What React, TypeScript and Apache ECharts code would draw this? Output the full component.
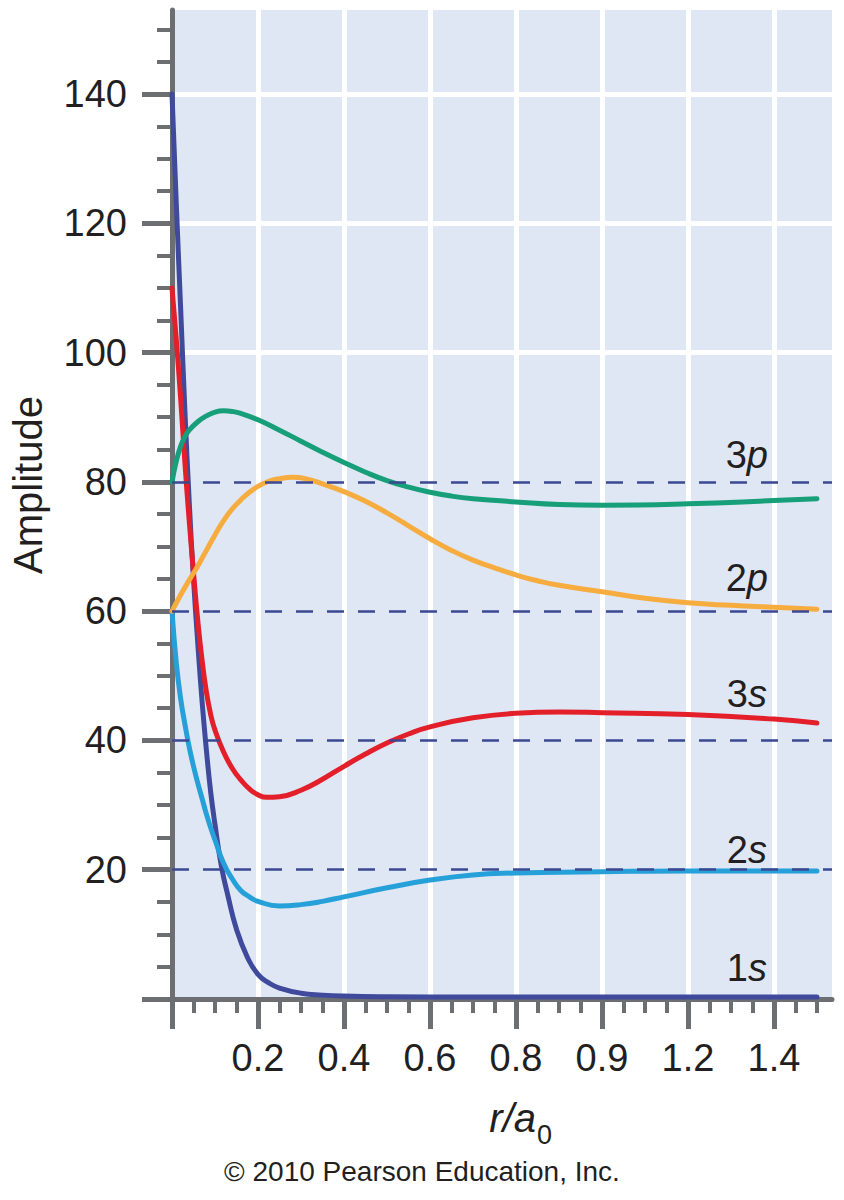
import React, { useEffect, useRef } from 'react';
import * as echarts from 'echarts';

// ---- axis ticks / labels ----
const xMajorTicks = [0, 0.2, 0.4, 0.6, 0.8, 1.0, 1.2, 1.4];
const xLabelValues = [0.2, 0.4, 0.6, 0.8, 1.0, 1.2, 1.4];
const xTickLabels = ['0.2', '0.4', '0.6', '0.8', '0.9', '1.2', '1.4'];
const xMinorTicks = [0.05, 0.1, 0.15, 0.25, 0.3, 0.35, 0.45, 0.5, 0.55, 0.65, 0.7, 0.75, 0.85, 0.9, 0.95, 1.05, 1.1, 1.15, 1.25, 1.3, 1.35, 1.45, 1.5];
const yMajorTicks = [0, 20, 40, 60, 80, 100, 120, 140];
const yLabelValues = [20, 40, 60, 80, 100, 120, 140];
const yMinorTicks = [5, 10, 15, 25, 30, 35, 45, 50, 55, 65, 70, 75, 85, 90, 95, 105, 110, 115, 125, 130, 135, 145, 150];
const whiteGridX = [0.2, 0.4, 0.6, 0.8, 1.0, 1.2, 1.4];
const whiteGridY = [100, 120, 140];
const dashedLevels = [20, 40, 60, 80];

// ---- series ----
const curveNames = ['1s', '2s', '3s', '2p', '3p'];
const s1: number[][] = [[0, 140], [0.01, 123], [0.02, 107], [0.03, 91], [0.04, 77], [0.05, 65], [0.06, 55], [0.07, 46], [0.08, 38.5], [0.09, 32], [0.1, 27], [0.115, 20.5], [0.13, 16], [0.15, 10.8], [0.175, 6.5], [0.2, 3.8], [0.225, 2.5], [0.25, 1.7], [0.3, 0.9], [0.35, 0.6], [0.4, 0.45], [0.5, 0.35], [0.7, 0.3], [1.0, 0.3], [1.5, 0.3]];
const s2: number[][] = [[0, 60], [0.01, 52], [0.02, 46.5], [0.03, 42.5], [0.04, 39], [0.05, 36], [0.06, 33.4], [0.07, 31], [0.08, 28.6], [0.09, 26.5], [0.1, 24.6], [0.12, 21], [0.14, 18.6], [0.16, 16.8], [0.18, 15.8], [0.2, 15.1], [0.25, 14.4], [0.3, 14.6], [0.35, 15.1], [0.4, 15.8], [0.5, 17.2], [0.6, 18.4], [0.7, 19.2], [0.8, 19.5], [0.9, 19.6], [1.0, 19.7], [1.2, 19.8], [1.5, 19.8]];
const s3: number[][] = [[0, 110], [0.01, 102], [0.02, 93], [0.03, 83], [0.04, 74], [0.05, 66], [0.06, 58.5], [0.07, 52.4], [0.08, 47.5], [0.09, 44], [0.1, 41.6], [0.12, 38.2], [0.14, 35.7], [0.16, 33.9], [0.18, 32.5], [0.2, 31.6], [0.22, 31.2], [0.25, 31.3], [0.3, 32.3], [0.35, 34], [0.4, 36], [0.45, 37.9], [0.5, 39.6], [0.55, 41], [0.6, 42.1], [0.7, 43.5], [0.8, 44.2], [0.9, 44.4], [1.0, 44.3], [1.2, 44.0], [1.4, 43.3], [1.5, 42.7]];
const p2: number[][] = [[0, 60], [0.02, 62.5], [0.04, 64.8], [0.06, 67], [0.08, 69.4], [0.1, 71.8], [0.12, 74], [0.14, 75.8], [0.16, 77.2], [0.18, 78.4], [0.2, 79.3], [0.225, 80.1], [0.25, 80.5], [0.28, 80.7], [0.31, 80.5], [0.35, 79.7], [0.4, 78.5], [0.45, 77], [0.5, 75.2], [0.55, 73.2], [0.6, 71.2], [0.65, 69.4], [0.7, 67.9], [0.75, 66.7], [0.8, 65.6], [0.85, 64.7], [0.9, 64], [1.0, 63], [1.1, 62], [1.2, 61.3], [1.3, 60.9], [1.4, 60.6], [1.5, 60.3]];
const p3: number[][] = [[0, 80], [0.01, 83.2], [0.02, 85.5], [0.03, 87], [0.04, 88], [0.06, 89.3], [0.08, 90.2], [0.1, 90.8], [0.12, 91], [0.14, 90.9], [0.16, 90.6], [0.2, 89.6], [0.25, 88], [0.3, 86.3], [0.35, 84.6], [0.4, 83.0], [0.45, 81.5], [0.5, 80.2], [0.55, 79.2], [0.6, 78.4], [0.65, 77.8], [0.7, 77.4], [0.8, 76.9], [0.9, 76.5], [1.0, 76.4], [1.2, 76.6], [1.4, 77.1], [1.5, 77.4]];
const curveData = [s1, s2, s3, p2, p3];
const curveColors = ['#3f4a9c', '#25a0d8', '#e31f2a', '#f6ac3f', '#169f78'];

// level labels: number part, italic letter part, anchor value
const levelNum = ['1', '2', '3', '2', '3'];
const levelLetter = ['s', 's', 's', 'p', 'p'];
const levelAnchorY = [4.8, 23.0, 47.2, 65.1, 84.1];
const levelAnchorX = 1.337;

const FONT = '"Liberation Sans", Arial, Helvetica, sans-serif';
const TEXT = '#231f20';
const AXIS = '#6d6e71';

export default function App() {
  const ref = useRef<HTMLDivElement>(null);
  useEffect(() => {
    if (!ref.current) return;
    const chart = echarts.init(ref.current, undefined, { renderer: 'svg' });
    const xFmt = (v: number) => {
      const i = xLabelValues.findIndex((t) => Math.abs(t - v) < 1e-6);
      return i >= 0 ? xTickLabels[i] : '';
    };
    const xBase = { type: 'value', min: 0, max: 1.535, gridIndex: 0, splitLine: { show: false }, z: 1.5 };
    const yBase = { type: 'value', min: 0, max: 153, gridIndex: 0, splitLine: { show: false }, z: 1.5 };
    const option: any = {
      animation: false,
      grid: { left: 172, right: 12, top: 10, bottom: 201, show: true, backgroundColor: '#dfe6f4', borderWidth: 0 },
      xAxis: [
        {
          ...xBase,
          position: 'bottom',
          axisLine: { show: true, lineStyle: { color: AXIS, width: 5 } },
          axisTick: { show: true, customValues: xMajorTicks, length: 30, lineStyle: { color: AXIS, width: 5 } },
          axisLabel: { show: true, customValues: xLabelValues, formatter: xFmt, margin: 40, fontSize: 38, color: TEXT, fontFamily: FONT },
        },
        {
          ...xBase,
          position: 'bottom',
          axisLine: { show: false },
          axisTick: { show: true, customValues: xMinorTicks, length: 14, lineStyle: { color: AXIS, width: 4 } },
          axisLabel: { show: false },
        },
      ],
      yAxis: [
        {
          ...yBase,
          position: 'left',
          axisLine: { show: true, lineStyle: { color: AXIS, width: 5 } },
          axisTick: { show: true, customValues: yMajorTicks, length: 30, lineStyle: { color: AXIS, width: 5 } },
          axisLabel: { show: true, customValues: yLabelValues, margin: 45, fontSize: 38, color: TEXT, fontFamily: FONT },
        },
        {
          ...yBase,
          position: 'left',
          axisLine: { show: false },
          axisTick: { show: true, customValues: yMinorTicks, length: 15, lineStyle: { color: AXIS, width: 4 } },
          axisLabel: { show: false },
        },
      ],
      series: [
        {
          type: 'line',
          name: 'grid',
          data: [],
          silent: true,
          markLine: {
            z: 1,
            silent: true,
            symbol: 'none',
            label: { show: false },
            lineStyle: { color: '#ffffff', width: 5, type: 'solid' },
            data: [...whiteGridX.map((v) => ({ xAxis: v })), ...whiteGridY.map((v) => ({ yAxis: v }))],
          },
        },
        ...curveData.map((d, i) => ({
          type: 'line',
          name: curveNames[i],
          data: d,
          smooth: 0.5,
          showSymbol: false,
          symbol: 'none',
          z: 2,
          lineStyle: { color: curveColors[i], width: 5, cap: 'round', join: 'round' },
          itemStyle: { color: curveColors[i] },
        })),
        {
          type: 'line',
          name: 'levels',
          data: [],
          silent: true,
          markLine: {
            z: 3,
            silent: true,
            symbol: 'none',
            label: { show: false },
            lineStyle: { color: '#3b4892', width: 2.5, type: [17, 14] },
            data: dashedLevels.map((v) => ({ yAxis: v })),
          },
          markPoint: {
            z: 4,
            silent: true,
            symbol: 'circle',
            symbolSize: 0,
            label: {
              show: true,
              position: 'inside',
              formatter: (p: any) => `{n|${levelNum[p.dataIndex]}}{i|${levelLetter[p.dataIndex]}}`,
              rich: {
                n: { fontSize: 38, color: TEXT, fontFamily: FONT },
                i: { fontSize: 38, color: TEXT, fontFamily: FONT, fontStyle: 'italic' },
              },
            },
            data: levelAnchorY.map((v) => ({ coord: [levelAnchorX, v] })),
          },
        },
      ],
      graphic: [
        {
          type: 'text',
          x: 28,
          y: 485,
          rotation: Math.PI / 2,
          style: { text: 'Amplitude', fontSize: 40, fontFamily: FONT, fill: TEXT, align: 'center', verticalAlign: 'middle' },
        },
        {
          type: 'text',
          x: 536,
          y: 1118,
          style: { text: 'r/a', fontSize: 40, fontStyle: 'italic', fontFamily: FONT, fill: TEXT, align: 'right', verticalAlign: 'middle' },
        },
        {
          type: 'text',
          x: 537,
          y: 1135,
          style: { text: '0', fontSize: 27, fontFamily: FONT, fill: TEXT, align: 'left', verticalAlign: 'middle' },
        },
        {
          type: 'text',
          x: 422,
          y: 1171,
          style: { text: '© 2010 Pearson Education, Inc.', fontSize: 28, fontFamily: FONT, fill: TEXT, align: 'center', verticalAlign: 'middle' },
        },
      ],
    };
    chart.setOption(option);
    return () => chart.dispose();
  }, []);
  return (
    <div
      ref={ref}
      style={{ position: 'absolute', left: 0, top: 0, width: 844, height: 1200, background: '#ffffff' }}
    />
  );
}
